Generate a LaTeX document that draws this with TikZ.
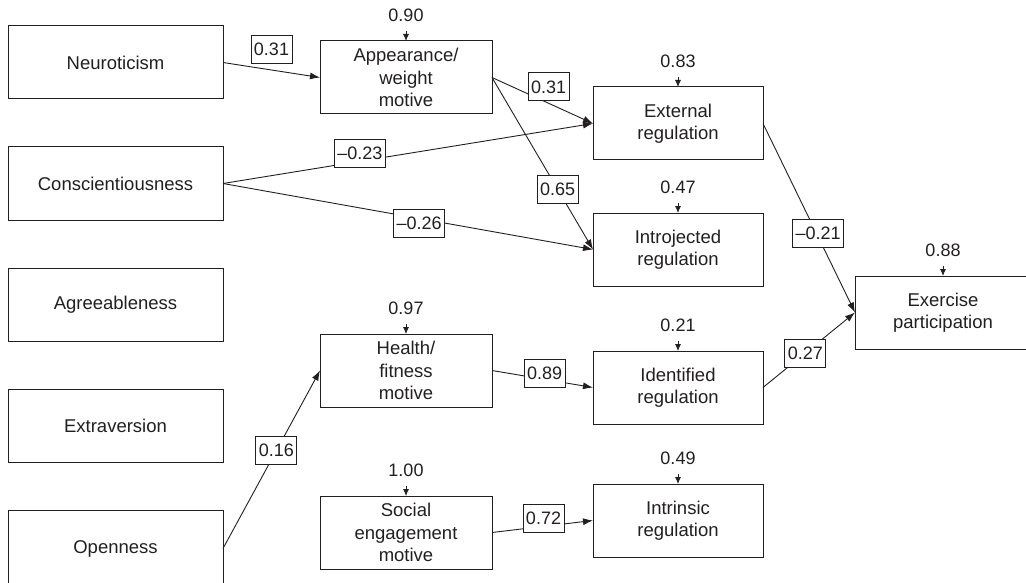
\documentclass[tikz,border=0pt]{standalone}
\usepackage{fontspec}
\setmainfont{Liberation Sans}
\usetikzlibrary{positioning,arrows.meta}
\definecolor{ink}{HTML}{231F20}

\begin{document}
\begin{tikzpicture}[x=1pt, y=1pt, >={Latex[length=10pt,width=7pt]}, color=ink]
    % Define styles
    \tikzstyle{trait} = [rectangle, draw, line width=1pt, outer sep=0pt, minimum width=215pt, minimum height=73pt, align=center, font=\fontsize{18.5}{22.5}\selectfont]
    \tikzstyle{motive} = [trait, minimum width=172pt]
    \tikzstyle{regul} = [trait, minimum width=170pt]
    \tikzstyle{weight} = [rectangle, draw, fill=white, line width=0.8pt, inner xsep=3pt, inner ysep=0pt, minimum height=28pt, font=\fontsize{18}{20}\selectfont]
    \tikzstyle{resid} = [inner sep=0pt, font=\fontsize{18}{20}\selectfont]
    \tikzstyle{link} = [->, line width=0.9pt]
    \tikzstyle{reslink} = [-{Latex[length=7pt,width=6pt]}, line width=0.8pt, shorten <=9pt]

    \useasboundingbox (0,0) rectangle (1026,-583);

    % Personality traits
    \node [trait] at (115.5,-62.5) (neuro) {Neuroticism};
    \node [trait, below=48pt of neuro] (consc) {Conscientiousness};
    \node [trait, below=48pt of consc] (agree) {Agreeableness};
    \node [trait, below=48pt of agree] (extra) {Extraversion};
    \node [trait, below=48pt of extra, minimum height=77pt] (open) {Openness};

    % Motives
    \node [motive, right=97pt of neuro, yshift=-15pt] (appear) {Appearance/\\weight\\motive};
    \node [motive, below=220pt of appear] (health) {Health/\\fitness\\motive};
    \node [motive, below=89pt of health] (social) {Social\\engagement\\motive};

    % Regulations
    \node [regul, right=101pt of appear, yshift=-46pt] (extreg) {External\\regulation};
    \node [regul, below=53pt of extreg] (introreg) {Introjected\\regulation};
    \node [regul, below=65pt of introreg] (identreg) {Identified\\regulation};
    \node [regul, below=60pt of identreg] (intrreg) {Intrinsic\\regulation};

    % Outcome
    \node [trait, minimum width=176pt, right=92pt of extreg, yshift=-189pt] (exer) {Exercise\\participation};

    % Residuals
    \node [resid, above=19pt of appear] (r-appear) {0.90};
    \node [resid, above=19pt of health] (r-health) {0.97};
    \node [resid, above=19pt of social] (r-social) {1.00};
    \node [resid, above=19pt of extreg] (r-extreg) {0.83};
    \node [resid, above=19pt of introreg] (r-introreg) {0.47};
    \node [resid, above=19pt of identreg] (r-identreg) {0.21};
    \node [resid, above=19pt of intrreg] (r-intrreg) {0.49};
    \node [resid, above=19pt of exer] (r-exer) {0.88};
    \foreach \n in {appear, health, social, extreg, introreg, identreg, intrreg, exer}
        \draw [reslink] (r-\n) -- (\n);

    % Arrows
    \draw [link] (neuro.east) -- node[weight, above=6pt] {0.31} (appear.west);
    \draw [link] (consc.east) -- node[weight, pos=.37, yshift=8pt] {\textendash0.23} (extreg.west);
    \draw [link] (consc.east) -- node[weight, pos=.53, yshift=-5pt] {\textendash0.26} (introreg.west);
    \draw [link] (appear.east) -- node[weight, pos=.56, above=2pt] {0.31} (extreg.west);
    \draw [link] (appear.east) -- node[weight, pos=.65] {0.65} (introreg.west);
    \draw [link] (open.east) -- node[weight, pos=.55] {0.16} (health.west);
    \draw [link] (health.east) -- node[weight, pos=.52, yshift=6pt] {0.89} (identreg.west);
    \draw [link] (social.east) -- node[weight, pos=.51, yshift=8pt] {0.72} (intrreg.west);
    \draw [link] (extreg.east) -- node[weight, pos=.6, yshift=4pt] {\textendash0.21} (exer.west);
    \draw [link] (identreg.east) -- node[weight, pos=.46] {0.27} (exer.west);
\end{tikzpicture}
\end{document}
